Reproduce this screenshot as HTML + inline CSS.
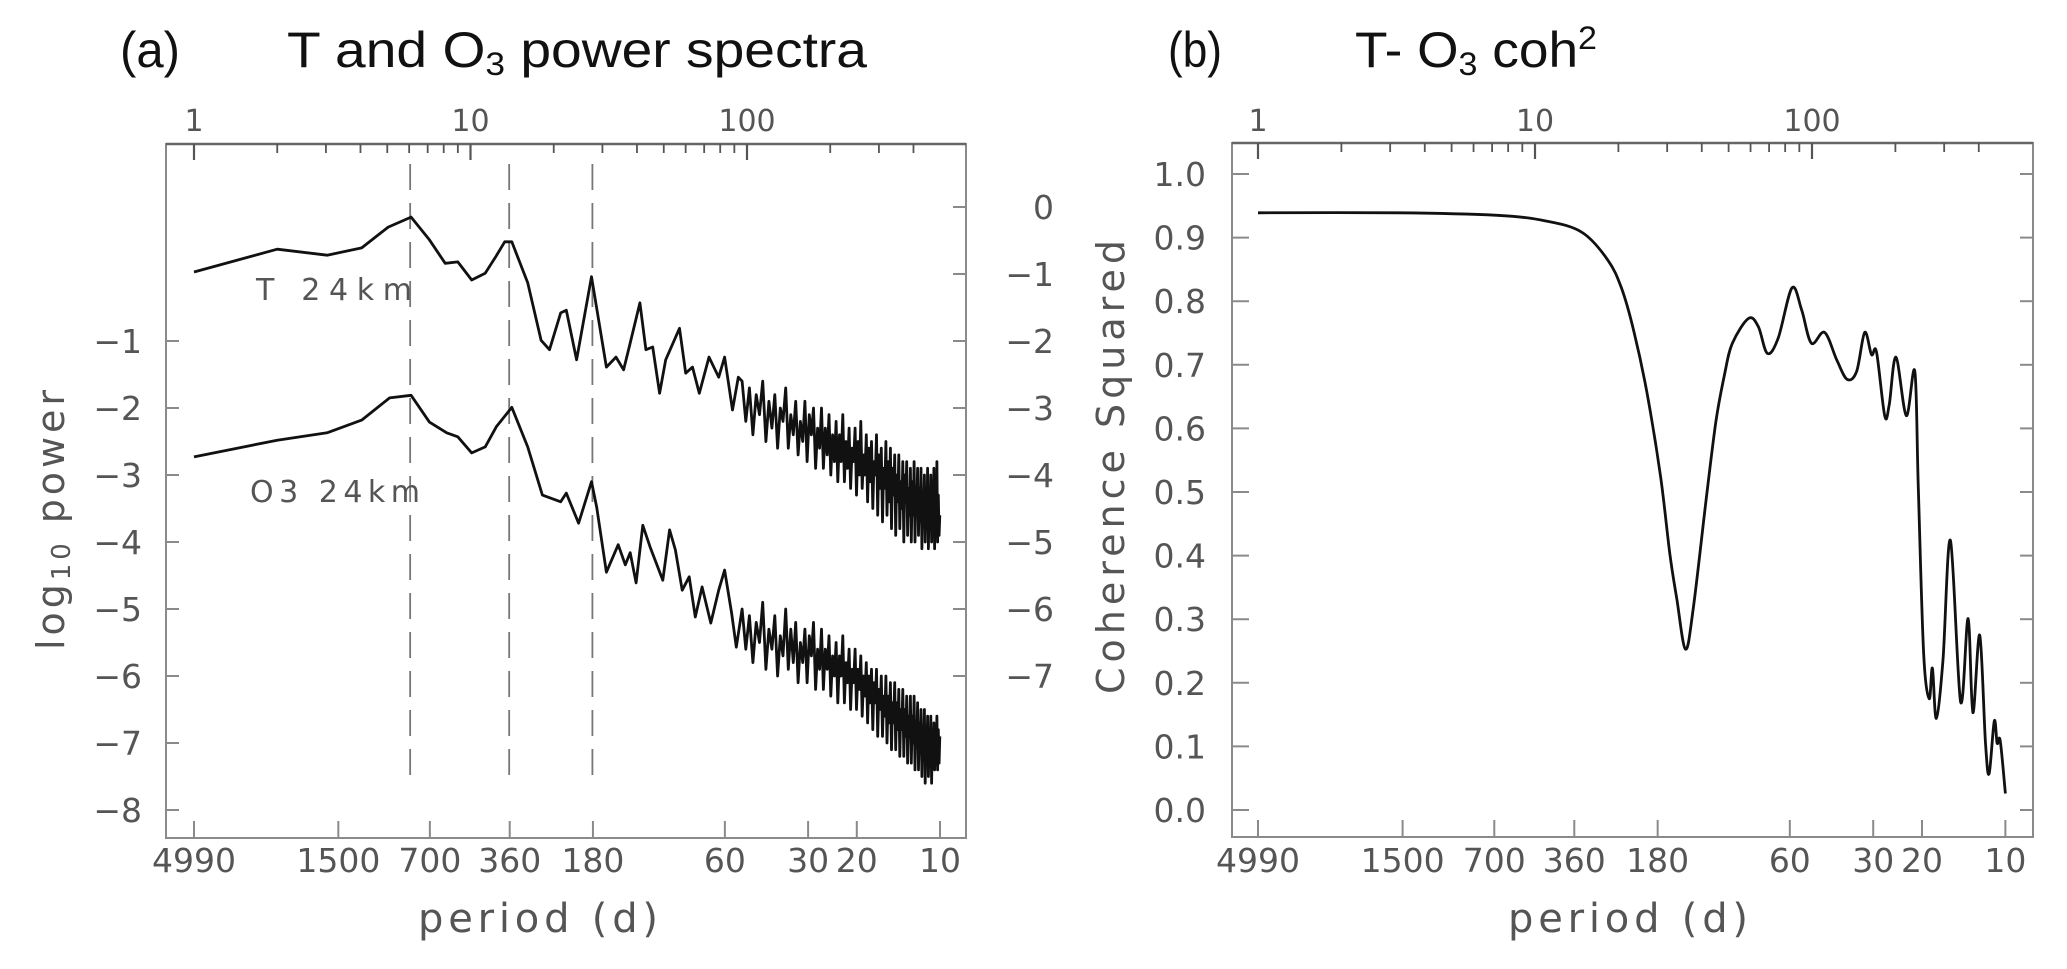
<!DOCTYPE html>
<html><head><meta charset="utf-8"><style>
html,body{margin:0;padding:0;background:#fff;}
svg{display:block;}
</style></head><body>
<svg id="fig" width="2067" height="969" viewBox="0 0 2067 969" xmlns="http://www.w3.org/2000/svg">
<g font-family="Liberation Sans, sans-serif" fill="#111">
<text x="120" y="67" font-size="50" textLength="60" lengthAdjust="spacingAndGlyphs">(a)</text>
<text x="287" y="67" font-size="50" textLength="580" lengthAdjust="spacingAndGlyphs">T and O<tspan font-size="32" dy="8">3</tspan><tspan dy="-8"> power spectra</tspan></text>
</g>
<g font-family="Liberation Sans, sans-serif" fill="#111">
<text x="1168" y="67" font-size="50" textLength="54" lengthAdjust="spacingAndGlyphs">(b)</text>
<text x="1355" y="67" font-size="50" textLength="242" lengthAdjust="spacingAndGlyphs">T-  O<tspan font-size="32" dy="8">3</tspan><tspan dy="-8"> coh</tspan><tspan font-size="32" dy="-18">2</tspan></text>
</g>
<g id="pa"></g>
<g id="pb"></g>
</svg>
<script>
// ---------- Panel (a) data ----------
const bottomTickPeriods = [4990, 1500, 700, 360, 180, 60, 30, 20, 10];
const bottomTickLabels = ["4990", "1500", "700", "360", "180", "60", "30", "20", "10"];
const topTickLabels = ["1", "10", "100"];
const topTickValues = [1, 10, 100];
const leftTickValues = [-1, -2, -3, -4, -5, -6, -7, -8];
const rightTickLabels = ["0", "-1", "-2", "-3", "-4", "-5", "-6", "-7"];
const dashedFreqs = [6.05, 13.8, 27.6];
const recordLength = 4990;

const freqEarlyT = [1,2.0,3.03,4.04,5.04,6.1,7.1,8.1,9.0,10.1,11.3,12.3,13.3,14.1,16.1,18.0,19.3,21.2,22.2,24.2,27.4,31.0,33.6,35.8,37.8,41.0,43.1,45.6,48.3,50.8,57,60,63.5,67.2,72.9,79.0,83.0,88.6,93];
const valEarlyT = [0.03,0.37,0.28,0.39,0.70,0.85,0.51,0.16,0.18,-0.09,0.01,0.25,0.48,0.48,-0.13,-0.99,-1.13,-0.58,-0.54,-1.28,-0.04,-1.39,-1.24,-1.43,-1.03,-0.43,-1.13,-1.09,-1.78,-1.28,-0.81,-1.48,-1.39,-1.78,-1.24,-1.54,-1.24,-2.03,-1.54];
const freqEarlyO3 = [1,2.0,3.03,4.04,5.1,6.1,7.1,8.2,9.0,10.1,11.3,12.4,14.1,16.1,17.5,18.2,21.2,22.2,24.6,27.4,28.6,31.0,34.2,36.3,37.8,39.7,42,44.6,49.6,52.5,55.1,58.3,61.8,65,68.8,74.0,79,83,88,91.5];
const valEarlyO3 = [-2.73,-2.48,-2.37,-2.18,-1.85,-1.81,-2.21,-2.37,-2.43,-2.67,-2.58,-2.28,-1.99,-2.58,-3.07,-3.30,-3.40,-3.27,-3.72,-3.10,-3.48,-4.45,-4.04,-4.34,-4.16,-4.61,-3.75,-4.07,-4.57,-3.82,-4.12,-4.72,-4.52,-5.12,-4.67,-5.21,-4.72,-4.42,-5.06,-5.57];
const freqDense = [96,99,102,105,108,111,114,117,120,123,126,129,132,135,138,141,144,147,150,153,156,159,162,165,168,171,174,177,180,183,186,189,192,195,198,201,204,207,210,213,216,219,222,225,228,231,234,237,240,243,246,249,252,255,258,261,264,267,270,273,276,279,282,285,288,291,294,297,300,303,306,309,312,315,318,321,324,327,330,333,336,339,342,345,348,351,354,357,360,363,366,369,372,375,378,381,384,387,390,393,396,399,402,405,408,411,414,417,420,423,426,429,432,435,438,441,444,447,450,453,456,459,462,465,468,471,474,477,480,483,486,489,492,495,498];
const valDenseT = [-1.6,-2.2,-1.7,-2.4,-1.8,-2.1,-1.6,-2.5,-1.9,-2.3,
-1.8,-2.6,-2.0,-2.2,-1.7,-2.6,-2.1,-2.4,-1.9,-2.7,
-2.2,-2.5,-1.9,-2.8,-2.1,-2.4,-2.0,-2.9,-2.3,-2.6,
-2.0,-2.9,-2.3,-2.7,-2.1,-3.0,-2.4,-2.8,-2.2,-3.1,
-2.4,-2.8,-2.1,-3.1,-2.5,-2.9,-2.3,-3.2,-2.6,-2.8,
-2.3,-3.3,-2.5,-3.0,-2.2,-3.2,-2.7,-3.0,-2.4,-3.4,
-2.6,-3.1,-2.5,-3.5,-2.8,-3.0,-2.4,-3.6,-2.7,-3.2,
-2.6,-3.7,-2.9,-3.2,-2.5,-3.6,-2.8,-3.4,-2.6,-3.8,
-2.9,-3.3,-2.7,-3.9,-3.0,-3.4,-2.7,-3.8,-3.1,-3.5,
-2.8,-4.0,-3.0,-3.4,-2.8,-3.9,-3.2,-3.6,-2.9,-4.0,
-3.1,-3.6,-2.8,-4.0,-3.3,-3.5,-2.9,-3.9,-3.2,-3.7,
-2.9,-4.1,-3.3,-3.6,-3.0,-4.0,-3.2,-3.8,-2.9,-4.1,
-3.3,-3.7,-3.0,-4.0,-3.4,-3.6,-2.9,-4.1,-3.2,-3.8,
-2.8,-4.0,-3.3,-3.9,-3.6];
const valDenseO3 = [-5.0,-5.6,-5.1,-5.8,-5.2,-5.5,-4.9,-5.9,-5.3,-5.6,
-5.1,-6.0,-5.4,-5.7,-5.0,-5.9,-5.3,-5.8,-5.2,-6.1,
-5.5,-5.8,-5.3,-6.1,-5.4,-5.7,-5.2,-6.2,-5.6,-5.9,
-5.3,-6.2,-5.6,-5.9,-5.4,-6.3,-5.7,-6.0,-5.5,-6.4,
-5.7,-6.0,-5.4,-6.4,-5.8,-6.1,-5.6,-6.5,-5.9,-6.1,
-5.6,-6.5,-5.9,-6.2,-5.7,-6.6,-6.0,-6.3,-5.8,-6.7,
-6.0,-6.4,-5.9,-6.8,-6.1,-6.4,-5.9,-6.9,-6.2,-6.5,
-6.0,-6.9,-6.3,-6.6,-6.0,-7.0,-6.3,-6.7,-6.1,-7.1,
-6.4,-6.7,-6.1,-7.1,-6.4,-6.8,-6.2,-7.2,-6.5,-6.8,
-6.2,-7.2,-6.5,-6.9,-6.3,-7.3,-6.6,-6.9,-6.3,-7.3,
-6.6,-7.0,-6.3,-7.4,-6.7,-7.0,-6.4,-7.4,-6.7,-7.1,
-6.5,-7.5,-6.8,-7.1,-6.5,-7.6,-6.8,-7.2,-6.6,-7.5,
-6.9,-7.2,-6.6,-7.6,-6.9,-7.3,-6.7,-7.4,-6.9,-7.2,
-6.6,-7.4,-6.8,-7.3,-6.9];

// ---------- Panel (b) data ----------
const cohFreqs = [1,3.2,7.3,11,14.8,18.3,20.5,22.8,25.4,28.4,30.7,32.5,34.9,37.2,41.5,45,48.4,51.6,59,64,69,75.5,84.7,91.8,99.5,111,123,134,145,155,164,171,183,190,201,219,235,242,253,265,272,281,297,316,344,366,381,403,423,436,455,466,478,499];
const cohValues = [0.939,0.939,0.935,0.926,0.908,0.865,0.821,0.751,0.655,0.524,0.402,0.332,0.253,0.314,0.489,0.611,0.686,0.734,0.773,0.760,0.718,0.742,0.821,0.786,0.734,0.751,0.707,0.677,0.690,0.751,0.716,0.720,0.620,0.637,0.712,0.620,0.690,0.507,0.245,0.175,0.223,0.144,0.236,0.424,0.170,0.301,0.153,0.275,0.105,0.057,0.140,0.105,0.109,0.026];
const cohTickValues = [0.0,0.1,0.2,0.3,0.4,0.5,0.6,0.7,0.8,0.9,1.0];
const cohTickLabels = ["0.0","0.1","0.2","0.3","0.4","0.5","0.6","0.7","0.8","0.9","1.0"];

const NS = "http://www.w3.org/2000/svg";
function mk(parent, tag, attrs){
  const e = document.createElementNS(NS, tag);
  for (const k in attrs) e.setAttribute(k, attrs[k]);
  parent.appendChild(e);
  return e;
}
const FONT = "DejaVu Sans, Liberation Sans, sans-serif";
const GRAY = "#8a8a8a", TXT = "#555";

function drawFrame(g, L, R, T, B, xOf, prefix){
  const fr = mk(g, "rect", {x:L, y:T, width:R-L, height:B-T, fill:"none", stroke:GRAY, "stroke-width":2});
  
  
  const ta = mk(g, "line", {x1:L, y1:T, x2:R, y2:T, stroke:"#666", "stroke-width":2.5});
  
  
  for (let dec = 1; dec <= 100; dec *= 10){
    for (let m = 1; m <= 9; m++){
      const f = dec*m;
      if (f > 499) continue;
      const x = xOf(f);
      const major = (m === 1);
      mk(g, "line", {x1:x, y1:T, x2:x, y2:T+(major?16:9), stroke:"#555", "stroke-width":major?2.2:1.8});
    }
  }
  topTickValues.forEach((v,i)=>{
    const t = mk(g, "text", {x:xOf(v), y:131, "text-anchor":"middle", "font-family":FONT, "font-size":30, fill:TXT});
    t.textContent = topTickLabels[i];
    
    
  });
  bottomTickPeriods.forEach((p,i)=>{
    const x = xOf(recordLength/p);
    mk(g, "line", {x1:x, y1:B, x2:x, y2:B-17, stroke:GRAY, "stroke-width":2});
    const t = mk(g, "text", {x:x, y:872, "text-anchor":"middle", "font-family":FONT, "font-size":33, fill:TXT});
    t.textContent = bottomTickLabels[i];
    
    
  });
}
function linePath(xs, ys){
  return xs.map((x,i)=>(i?"L":"M")+x.toFixed(1)+","+ys[i].toFixed(1)).join("");
}
function smoothPath(xs, ys){
  let d = "M"+xs[0].toFixed(1)+","+ys[0].toFixed(1);
  for (let i=0;i<xs.length-1;i++){
    const x0=xs[Math.max(0,i-1)], y0=ys[Math.max(0,i-1)];
    const x1=xs[i], y1=ys[i], x2=xs[i+1], y2=ys[i+1];
    const x3=xs[Math.min(xs.length-1,i+2)], y3=ys[Math.min(xs.length-1,i+2)];
    const c1x=x1+(x2-x0)/6, c1y=y1+(y2-y0)/6, c2x=x2-(x3-x1)/6, c2y=y2-(y3-y1)/6;
    d += "C"+c1x.toFixed(1)+","+c1y.toFixed(1)+" "+c2x.toFixed(1)+","+c2y.toFixed(1)+" "+x2.toFixed(1)+","+y2.toFixed(1);
  }
  return d;
}

// ---------- Panel (a) ----------
(function(){
  const g = document.getElementById("pa");
  const L=166, R=966, T=144, B=838;
  const xOf = f => 194 + 276.5*Math.log10(f);
  const yOf = v => 274 - 67*v;
  drawFrame(g, L, R, T, B, xOf, "power");
  leftTickValues.forEach(v=>{
    const y = yOf(v);
    mk(g, "line", {x1:L, y1:y, x2:L+13, y2:y, stroke:GRAY, "stroke-width":2});
    const t = mk(g, "text", {x:142, y:y+12, "text-anchor":"end", "font-family":FONT, "font-size":33, fill:TXT});
    t.textContent = "\u2212" + Math.abs(v);
    
    
  });
  rightTickLabels.forEach((lab,i)=>{
    const y = yOf(1 - i);
    mk(g, "line", {x1:R, y1:y, x2:R-13, y2:y, stroke:GRAY, "stroke-width":2});
    const t = mk(g, "text", {x:1054, y:y+12, "text-anchor":"end", "font-family":FONT, "font-size":33, fill:TXT});
    t.textContent = lab.replace("-", "\u2212");
    
    
  });
  dashedFreqs.forEach(f=>{
    const x = xOf(f);
    const d = mk(g, "line", {x1:x, y1:T+20, x2:x, y2:788, stroke:"#777", "stroke-width":1.8, "stroke-dasharray":"26 13"});
    
    
  });
  const fT = freqEarlyT.concat(freqDense), vT = valEarlyT.concat(valDenseT);
  const fO = freqEarlyO3.concat(freqDense), vO = valEarlyO3.concat(valDenseO3);
  const pT = mk(g, "path", {d:linePath(fT.map(xOf), vT.map(yOf)), fill:"none", stroke:"#111", "stroke-width":2.8, "stroke-linejoin":"round"});
  
  
  const pO = mk(g, "path", {d:linePath(fO.map(xOf), vO.map(yOf)), fill:"none", stroke:"#111", "stroke-width":2.8, "stroke-linejoin":"round"});
  
  
  const l1 = mk(g, "text", {x:256, y:300, "font-family":FONT, "font-size":30, fill:TXT, textLength:156, lengthAdjust:"spacing"});
  l1.textContent = "T   24km";
  
  
  const l2 = mk(g, "text", {x:250, y:502, "font-family":FONT, "font-size":30, fill:TXT, textLength:170, lengthAdjust:"spacing"});
  l2.textContent = "O3  24km";
  
  
  const yl = mk(g, "text", {x:0, y:0, transform:"translate(64,520) rotate(-90)", "text-anchor":"middle", "font-family":FONT, "font-size":38, fill:TXT, textLength:260, lengthAdjust:"spacing"});
  yl.innerHTML = 'log<tspan font-size="26" dy="6">10</tspan><tspan dy="-6"> power</tspan>';
  
  
  const xl = mk(g, "text", {x:418, y:932, "font-family":FONT, "font-size":40, fill:TXT, textLength:240, lengthAdjust:"spacing"});
  xl.textContent = "period (d)";
  
  
})();

// ---------- Panel (b) ----------
(function(){
  const g = document.getElementById("pb");
  const L=1232, R=2033, T=143, B=837;
  const xOf = f => 1258 + 277*Math.log10(f);
  const yOf = v => 810 - 636*v;
  drawFrame(g, L, R, T, B, xOf, "coherence");
  cohTickValues.forEach((v,i)=>{
    const y = yOf(v);
    mk(g, "line", {x1:L, y1:y, x2:L+17, y2:y, stroke:GRAY, "stroke-width":2});
    mk(g, "line", {x1:R, y1:y, x2:R-13, y2:y, stroke:GRAY, "stroke-width":2});
    const t = mk(g, "text", {x:1206, y:y+12, "text-anchor":"end", "font-family":FONT, "font-size":33, fill:TXT});
    t.textContent = cohTickLabels[i];
    
    
  });
  const p = mk(g, "path", {d:smoothPath(cohFreqs.map(xOf), cohValues.map(yOf)), fill:"none", stroke:"#111", "stroke-width":2.8, "stroke-linejoin":"round"});
  
  
  const yl = mk(g, "text", {x:0, y:0, transform:"translate(1124,467) rotate(-90)", "text-anchor":"middle", "font-family":FONT, "font-size":38, fill:TXT, textLength:454, lengthAdjust:"spacing"});
  yl.textContent = "Coherence Squared";
  
  
  const xl = mk(g, "text", {x:1508, y:932, "font-family":FONT, "font-size":40, fill:TXT, textLength:240, lengthAdjust:"spacing"});
  xl.textContent = "period (d)";
  
  
})();
</script>
</body></html>
